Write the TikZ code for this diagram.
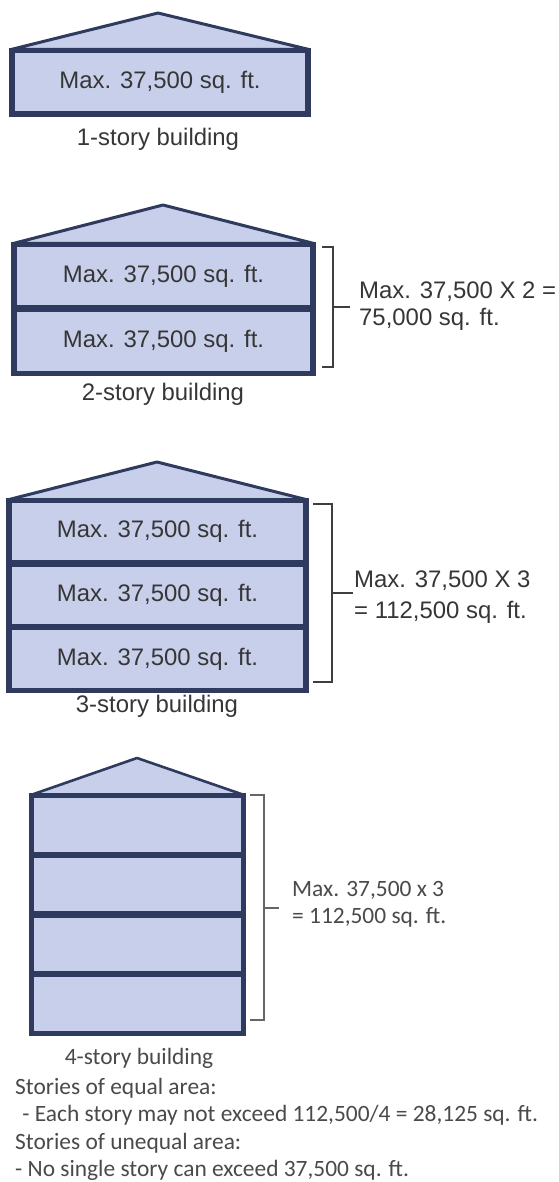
\documentclass[tikz,border=0pt]{standalone}
\usepackage{fontspec}
\setmainfont{Liberation Sans}
\newfontfamily\calfont{Carlito}
\definecolor{fillblue}{HTML}{C8CFEB}
\definecolor{navy}{HTML}{2E3A5E}
\definecolor{txt}{HTML}{363636}
\definecolor{txtb}{HTML}{4A4A4A}
\definecolor{bracegray}{HTML}{3E3E3E}
\tikzset{
  story/.style={draw=navy, fill=fillblue, line width=3.2bp, inner sep=0pt,
    text=txt, font=\fontsize{24}{28}\selectfont},
  outer/.style={draw=navy, line width=3.8bp},
  roof/.style={draw=navy, fill=fillblue, line width=3bp, line join=round},
  caption/.style={text=txt, font=\fontsize{24}{28}\selectfont, inner sep=0pt},
  bracelbl/.style={text=txt, font=\fontsize{24}{27}\selectfont, align=left, anchor=west},
  bracelblb/.style={text=txtb, font=\calfont\fontsize{23.5}{27}\selectfont, align=left, anchor=west},
  bracepath/.style={draw=bracegray, line width=1.8bp},
  bracepathb/.style={draw=gray!80!black, line width=1.4bp},
  note/.style={text=txtb, font=\calfont\fontsize{23.5}{27}\selectfont, anchor=west, inner sep=0pt},
}
\begin{document}
\begin{tikzpicture}[x=1bp, y=-1bp]
\useasboundingbox (0,0) rectangle (559,1182);
\fill[white] (0,0) rectangle (559,1182);

% ---------- 1-story
\node[story, minimum width=294bp, minimum height=62bp] (s11) at (160,82) {Max. 37,500 sq. ft.};
\coordinate (a1) at (158,13);
\draw[roof] (s11.north west) -- (a1) -- (s11.north east) -- cycle;
\draw[outer] (s11.north west) rectangle (s11.south east);
\node[caption] (c1) at (158,139) {1-story building};

% ---------- 2-story
\node[story, minimum width=297bp, minimum height=62bp] (s21) at (163.5,276) {Max. 37,500 sq. ft.};
\node[story, minimum width=297bp, minimum height=62bp, anchor=north] (s22) at (s21.south) {Max. 37,500 sq. ft.};
\coordinate (a2) at (163,205);
\draw[roof] (s21.north west) -- (a2) -- (s21.north east) -- cycle;
\draw[outer] (s21.north west) rectangle (s22.south east);
\node[caption] (c2) at (163,394) {2-story building};
\node[bracelbl, inner xsep=9bp] (m2) at (350,306) {Max. 37,500 X 2 =\\75,000 sq. ft.};
\coordinate (b2t) at (322,247);
\coordinate (b2b) at (322,367);
\coordinate (b2m) at (333,307);
\draw[bracepath] (b2t) -- (b2t -| b2m) -- (b2b -| b2m) -- (b2b);
\draw[bracepath] (b2m) -- (m2.west |- b2m);

% ---------- 3-story
\node[story, minimum width=295bp, minimum height=60.5bp] (s31) at (157.5,531.5) {Max. 37,500 sq. ft.};
\node[story, minimum width=295bp, minimum height=60.5bp, anchor=north] (s32) at (s31.south) {Max. 37,500 sq. ft.};
\node[story, minimum width=295bp, minimum height=60.5bp, anchor=north] (s33) at (s32.south) {Max. 37,500 sq. ft.};
\coordinate (a3) at (157,462);
\draw[roof] (s31.north west) -- (a3) -- (s31.north east) -- cycle;
\draw[outer] (s31.north west) rectangle (s33.south east);
\node[caption] (c3) at (157,706) {3-story building};
\node[bracelbl, inner xsep=1bp, font=\fontsize{24}{31}\selectfont] (m3) at (353,597) {Max. 37,500 X 3\\= 112,500 sq. ft.};
\coordinate (b3t) at (313,504);
\coordinate (b3b) at (313,682);
\coordinate (b3m) at (332,593);
\draw[bracepath] (b3t) -- (b3t -| b3m) -- (b3b -| b3m) -- (b3b);
\draw[bracepath] (b3m) -- (m3.west |- b3m);

% ---------- 4-story
\node[story, minimum width=211bp, minimum height=56.5bp] (s41) at (137.5,825) {};
\node[story, minimum width=211bp, minimum height=56.5bp, anchor=north] (s42) at (s41.south) {};
\node[story, minimum width=211bp, minimum height=56.5bp, anchor=north] (s43) at (s42.south) {};
\node[story, minimum width=211bp, minimum height=56.5bp, anchor=north] (s44) at (s43.south) {};
\coordinate (a4) at (137,758);
\draw[roof, line width=2.6bp] (s41.north west) -- (a4) -- (s41.north east) -- cycle;
\draw[outer, line width=3.4bp] (s41.north west) rectangle (s44.south east);
\node[bracelblb, inner xsep=13bp] (m4) at (279,904) {Max. 37,500 x 3\\= 112,500 sq. ft.};
\coordinate (b4t) at (250,795);
\coordinate (b4b) at (250,1020);
\coordinate (b4m) at (264,908);
\draw[bracepathb] (b4t) -- (b4t -| b4m) -- (b4b -| b4m) -- (b4b);
\draw[bracepathb] (b4m) -- (m4.west |- b4m);

% ---------- notes
\node[note, anchor=center] (c4) at (139,1058) {4-story building};
\node[note] (n1) at (15,1088) {Stories of equal area:};
\node[note] (n2) at (17,1115) {\ - Each story may not exceed 112,500/4 = 28,125 sq. ft.};
\node[note] (n3) at (15,1143) {Stories of unequal area:};
\node[note] (n4) at (15,1170) {- No single story can exceed 37,500 sq. ft.};
\end{tikzpicture}
\end{document}
